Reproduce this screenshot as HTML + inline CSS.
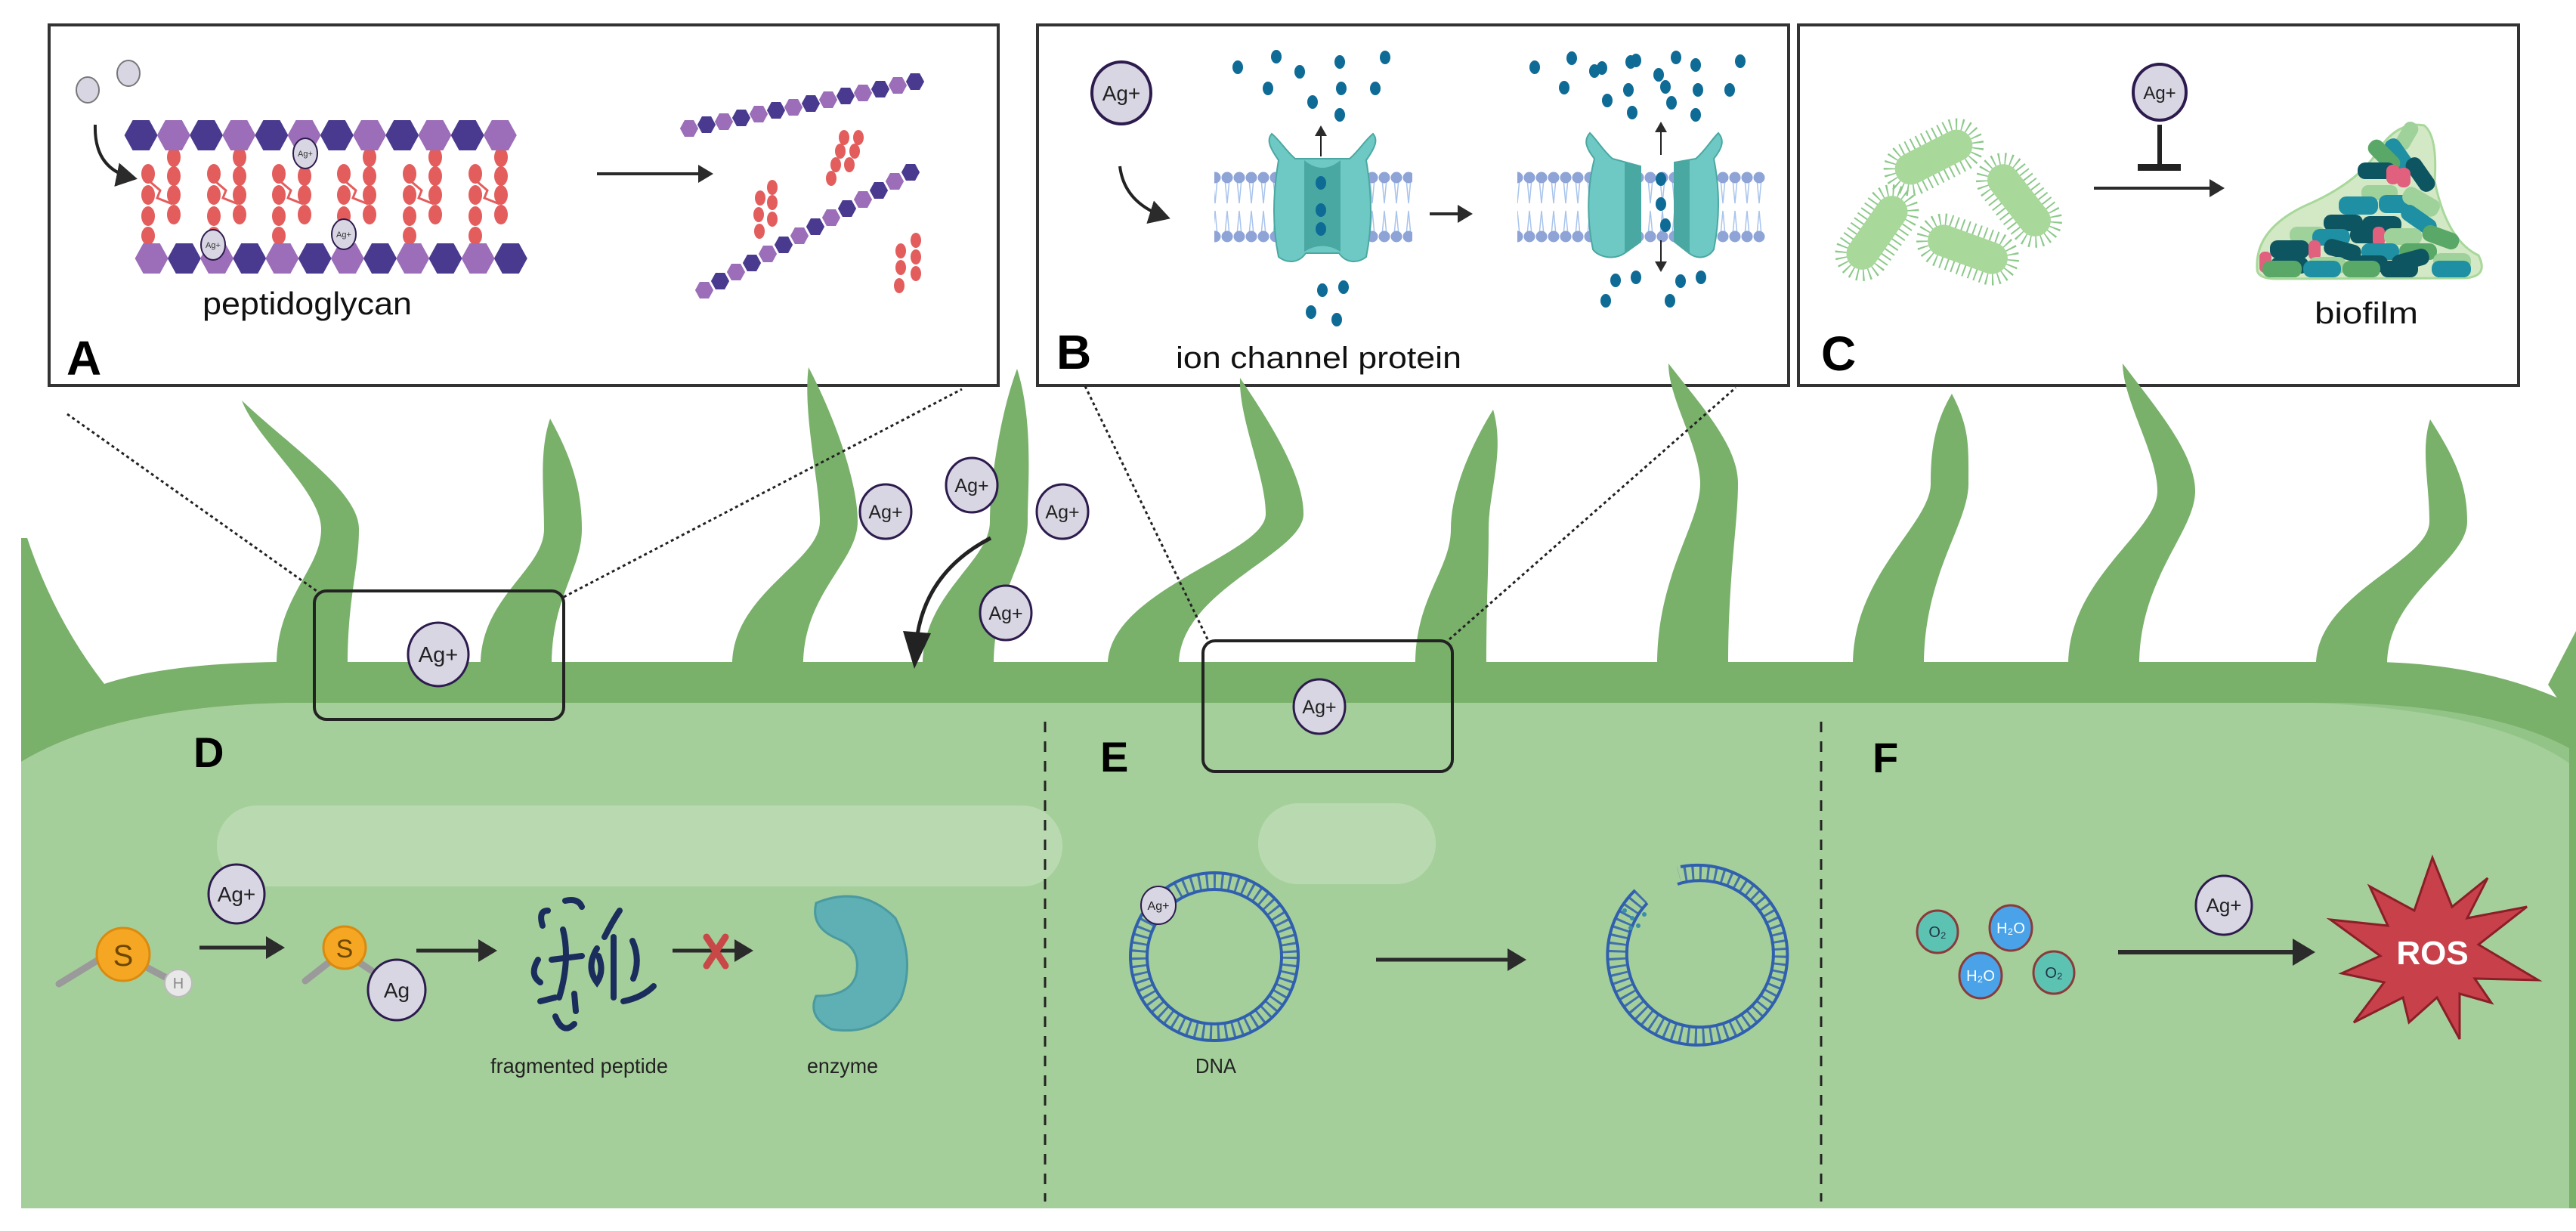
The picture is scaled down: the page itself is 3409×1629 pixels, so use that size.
<!DOCTYPE html>
<html><head><meta charset="utf-8"><style>
html,body{margin:0;padding:0;background:#fff;}
svg{display:block;}
text{font-family:"Liberation Sans",sans-serif;}
</style></head><body>
<svg width="3409" height="1629" viewBox="0 0 3409 1629" xmlns="http://www.w3.org/2000/svg">
<defs>
<marker id="ah" markerWidth="6" markerHeight="6" refX="4" refY="3" orient="auto" markerUnits="strokeWidth"><path d="M0,0 L5,3 L0,6 Z" fill="#2b2b2b"/></marker>
<marker id="ahs" markerWidth="8" markerHeight="8" refX="6" refY="4" orient="auto" markerUnits="strokeWidth"><path d="M0,0 L7,4 L0,8 Z" fill="#2b2b2b"/></marker>
<polygon id="hx" points="-22,0 -11,-20 11,-20 22,0 11,20 -11,20"/>
<pattern id="lip" x="0" y="227" width="16" height="94" patternUnits="userSpaceOnUse">
<path d="M5 10 L8 42 L11 10 M5 84 L8 52 L11 84" stroke="#a9c4ec" stroke-width="1.5" fill="none"/>
<circle cx="8" cy="8" r="7.5" fill="#8ea3d6"/><circle cx="8" cy="86" r="7.5" fill="#8ea3d6"/>
</pattern>
</defs>

<!-- Box A -->
<rect x="65" y="33" width="1256" height="477" fill="#fff" stroke="#333" stroke-width="4"/>
<ellipse cx="116" cy="119" rx="15" ry="17" fill="#d9d6e4" stroke="#777" stroke-width="2"/>
<ellipse cx="170" cy="97" rx="15" ry="17" fill="#d9d6e4" stroke="#777" stroke-width="2"/>
<path d="M126 165 Q124 225 178 236" stroke="#222" stroke-width="4" fill="none" marker-end="url(#ahs)"/>
<g fill="#e35d5d">
<g id="pep">
<ellipse cx="196" cy="230" rx="9" ry="13"/><ellipse cx="196" cy="258" rx="9" ry="13"/><ellipse cx="196" cy="286" rx="9" ry="13"/><ellipse cx="196" cy="312" rx="9" ry="12"/>
<ellipse cx="230" cy="208" rx="9" ry="13"/><ellipse cx="230" cy="233" rx="9" ry="13"/><ellipse cx="230" cy="258" rx="9" ry="13"/><ellipse cx="230" cy="284" rx="9" ry="13"/>
<path d="M198 240 L212 252 L208 262 L228 270" stroke="#e35d5d" stroke-width="3" fill="none"/>
</g>
<use href="#pep" x="87"/><use href="#pep" x="173"/><use href="#pep" x="259"/><use href="#pep" x="346"/><use href="#pep" x="433"/>
</g>
<g fill="#4a3a8f">
<use href="#hx" x="186.6" y="179"/><use href="#hx" x="273" y="179"/><use href="#hx" x="359.4" y="179"/><use href="#hx" x="445.8" y="179"/><use href="#hx" x="532.2" y="179"/><use href="#hx" x="618.6" y="179"/>
<use href="#hx" x="243.8" y="342"/><use href="#hx" x="330.2" y="342"/><use href="#hx" x="416.6" y="342"/><use href="#hx" x="503" y="342"/><use href="#hx" x="589.4" y="342"/><use href="#hx" x="675.8" y="342"/>
</g>
<g fill="#9c6db8">
<use href="#hx" x="229.8" y="179"/><use href="#hx" x="316.2" y="179"/><use href="#hx" x="402.6" y="179"/><use href="#hx" x="489" y="179"/><use href="#hx" x="575.4" y="179"/><use href="#hx" x="661.8" y="179"/>
<use href="#hx" x="200.6" y="342"/><use href="#hx" x="287" y="342"/><use href="#hx" x="373.4" y="342"/><use href="#hx" x="459.8" y="342"/><use href="#hx" x="546.2" y="342"/><use href="#hx" x="632.6" y="342"/>
</g>
<g fill="#d9d6e4" stroke="#2d1b4e" stroke-width="2">
<ellipse cx="404" cy="203" rx="16" ry="20"/><ellipse cx="282" cy="324" rx="16" ry="20"/><ellipse cx="455" cy="310" rx="16" ry="20"/>
</g>
<g font-size="11" fill="#333" text-anchor="middle"><text x="404" y="207">Ag+</text><text x="282" y="328">Ag+</text><text x="455" y="314">Ag+</text></g>
<line x1="790" y1="230" x2="940" y2="230" stroke="#2b2b2b" stroke-width="4" marker-end="url(#ah)"/>
<g>
<g fill="#9c6db8"><use href="#hx" transform="translate(912 170) scale(0.55)"/><use href="#hx" transform="translate(958 161) scale(0.55)"/><use href="#hx" transform="translate(1004 151) scale(0.55)"/><use href="#hx" transform="translate(1050 142) scale(0.55)"/><use href="#hx" transform="translate(1096 132) scale(0.55)"/><use href="#hx" transform="translate(1142 123) scale(0.55)"/><use href="#hx" transform="translate(1188 113) scale(0.55)"/></g>
<g fill="#4a3a8f"><use href="#hx" transform="translate(935 165) scale(0.55)"/><use href="#hx" transform="translate(981 156) scale(0.55)"/><use href="#hx" transform="translate(1027 146) scale(0.55)"/><use href="#hx" transform="translate(1073 137) scale(0.55)"/><use href="#hx" transform="translate(1119 127) scale(0.55)"/><use href="#hx" transform="translate(1165 118) scale(0.55)"/><use href="#hx" transform="translate(1211 108) scale(0.55)"/></g>
<g fill="#9c6db8"><use href="#hx" transform="translate(932 384) scale(0.55)"/><use href="#hx" transform="translate(974 360) scale(0.55)"/><use href="#hx" transform="translate(1016 336) scale(0.55)"/><use href="#hx" transform="translate(1058 312) scale(0.55)"/><use href="#hx" transform="translate(1100 288) scale(0.55)"/><use href="#hx" transform="translate(1142 264) scale(0.55)"/><use href="#hx" transform="translate(1184 240) scale(0.55)"/></g>
<g fill="#4a3a8f"><use href="#hx" transform="translate(953 372) scale(0.55)"/><use href="#hx" transform="translate(995 348) scale(0.55)"/><use href="#hx" transform="translate(1037 324) scale(0.55)"/><use href="#hx" transform="translate(1079 300) scale(0.55)"/><use href="#hx" transform="translate(1121 276) scale(0.55)"/><use href="#hx" transform="translate(1163 252) scale(0.55)"/><use href="#hx" transform="translate(1205 228) scale(0.55)"/></g>
</g>
<g fill="#e35d5d">
<ellipse cx="1117" cy="182" rx="7" ry="10"/><ellipse cx="1112" cy="200" rx="7" ry="10"/><ellipse cx="1106" cy="218" rx="7" ry="10"/><ellipse cx="1136" cy="182" rx="7" ry="10"/><ellipse cx="1131" cy="200" rx="7" ry="10"/><ellipse cx="1124" cy="218" rx="7" ry="10"/><ellipse cx="1100" cy="236" rx="7" ry="10"/>
<ellipse cx="1022" cy="248" rx="7" ry="10"/><ellipse cx="1022" cy="268" rx="7" ry="10"/><ellipse cx="1022" cy="290" rx="7" ry="10"/><ellipse cx="1006" cy="262" rx="7" ry="10"/><ellipse cx="1004" cy="284" rx="7" ry="10"/><ellipse cx="1005" cy="306" rx="7" ry="10"/>
<ellipse cx="1212" cy="318" rx="7" ry="10"/><ellipse cx="1212" cy="340" rx="7" ry="10"/><ellipse cx="1212" cy="362" rx="7" ry="10"/><ellipse cx="1192" cy="332" rx="7" ry="10"/><ellipse cx="1192" cy="354" rx="7" ry="10"/><ellipse cx="1190" cy="378" rx="7" ry="10"/>
</g>
<text x="268" y="416" font-size="42" textLength="277" lengthAdjust="spacingAndGlyphs" fill="#111">peptidoglycan</text>
<text x="88" y="496" font-size="64" font-weight="bold" fill="#000">A</text>

<!-- Box B -->
<rect x="1373" y="33" width="994" height="477" fill="#fff" stroke="#333" stroke-width="4"/>
<ellipse cx="1484" cy="123" rx="39" ry="41" fill="#d9d6e4" stroke="#2d1b4e" stroke-width="4"/>
<text x="1484" y="133" font-size="28" text-anchor="middle" fill="#222">Ag+</text>
<path d="M1482 220 Q1488 270 1545 288" stroke="#222" stroke-width="4" fill="none" marker-end="url(#ahs)"/>
<rect x="1607" y="227" width="262" height="94" fill="url(#lip)"/>
<rect x="2008" y="227" width="328" height="94" fill="url(#lip)"/>
<path d="M1692 212 C1680 195 1676 185 1683 177 C1694 186 1702 200 1714 210 L1786 210 C1798 200 1806 186 1817 177 C1824 185 1820 195 1808 212 C1816 260 1816 300 1808 340 C1795 350 1780 347 1772 335 L1728 335 C1720 347 1705 350 1692 340 C1684 300 1684 260 1692 212Z" fill="#6ec9c4" stroke="#4aa8a2" stroke-width="2"/>
<path d="M1726 212 Q1750 232 1774 212 L1774 333 Q1750 318 1726 333Z" fill="#4aa8a2"/>
<path d="M2110 210 C2098 195 2096 185 2104 176 C2114 186 2122 200 2134 210 L2171 220 L2171 320 L2150 335 C2135 345 2115 340 2108 330 C2100 290 2100 250 2110 210Z" fill="#6ec9c4" stroke="#4aa8a2" stroke-width="2"/>
<path d="M2150 215 L2171 220 L2171 320 L2150 335Z" fill="#4aa8a2"/>
<path d="M2268 210 C2280 195 2282 185 2274 176 C2264 186 2256 200 2244 210 L2216 215 L2216 320 L2235 335 C2248 345 2262 340 2268 330 C2276 290 2276 250 2268 210Z" fill="#6ec9c4" stroke="#4aa8a2" stroke-width="2"/>
<path d="M2236 212 L2216 215 L2216 320 L2236 335Z" fill="#4aa8a2"/>
<g fill="#0e6b96">
<ellipse cx="1638" cy="89" rx="7" ry="9"/><ellipse cx="1689" cy="75" rx="7" ry="9"/><ellipse cx="1720" cy="95" rx="7" ry="9"/><ellipse cx="1773" cy="82" rx="7" ry="9"/><ellipse cx="1833" cy="76" rx="7" ry="9"/><ellipse cx="1678" cy="117" rx="7" ry="9"/><ellipse cx="1775" cy="117" rx="7" ry="9"/><ellipse cx="1820" cy="117" rx="7" ry="9"/><ellipse cx="1737" cy="135" rx="7" ry="9"/><ellipse cx="1773" cy="152" rx="7" ry="9"/>
<ellipse cx="1748" cy="242" rx="7" ry="9"/><ellipse cx="1748" cy="278" rx="7" ry="9"/><ellipse cx="1748" cy="303" rx="7" ry="9"/>
<ellipse cx="1750" cy="384" rx="7" ry="9"/><ellipse cx="1778" cy="380" rx="7" ry="9"/><ellipse cx="1735" cy="413" rx="7" ry="9"/><ellipse cx="1769" cy="423" rx="7" ry="9"/>
<ellipse cx="2031" cy="89" rx="7" ry="9"/><ellipse cx="2080" cy="77" rx="7" ry="9"/><ellipse cx="2110" cy="94" rx="7" ry="9"/><ellipse cx="2120" cy="90" rx="7" ry="9"/><ellipse cx="2158" cy="82" rx="7" ry="9"/><ellipse cx="2165" cy="80" rx="7" ry="9"/><ellipse cx="2218" cy="76" rx="7" ry="9"/><ellipse cx="2244" cy="86" rx="7" ry="9"/><ellipse cx="2303" cy="81" rx="7" ry="9"/><ellipse cx="2195" cy="99" rx="7" ry="9"/><ellipse cx="2070" cy="116" rx="7" ry="9"/><ellipse cx="2155" cy="119" rx="7" ry="9"/><ellipse cx="2204" cy="115" rx="7" ry="9"/><ellipse cx="2247" cy="119" rx="7" ry="9"/><ellipse cx="2289" cy="119" rx="7" ry="9"/><ellipse cx="2127" cy="133" rx="7" ry="9"/><ellipse cx="2212" cy="136" rx="7" ry="9"/><ellipse cx="2160" cy="149" rx="7" ry="9"/><ellipse cx="2244" cy="152" rx="7" ry="9"/>
<ellipse cx="2198" cy="237" rx="7" ry="9"/><ellipse cx="2198" cy="270" rx="7" ry="9"/><ellipse cx="2204" cy="298" rx="7" ry="9"/>
<ellipse cx="2138" cy="371" rx="7" ry="9"/><ellipse cx="2165" cy="367" rx="7" ry="9"/><ellipse cx="2224" cy="372" rx="7" ry="9"/><ellipse cx="2251" cy="367" rx="7" ry="9"/><ellipse cx="2125" cy="398" rx="7" ry="9"/><ellipse cx="2210" cy="398" rx="7" ry="9"/>
</g>
<line x1="1748" y1="207" x2="1748" y2="168" stroke="#222" stroke-width="2" marker-end="url(#ahs)"/>
<line x1="2198" y1="205" x2="2198" y2="163" stroke="#222" stroke-width="2" marker-end="url(#ahs)"/>
<line x1="2198" y1="318" x2="2198" y2="358" stroke="#222" stroke-width="2" marker-end="url(#ahs)"/>
<line x1="1892" y1="283" x2="1945" y2="283" stroke="#2b2b2b" stroke-width="4" marker-end="url(#ah)"/>
<text x="1556" y="487" font-size="40" textLength="378" lengthAdjust="spacingAndGlyphs" fill="#111">ion channel protein</text>
<text x="1398" y="488" font-size="64" font-weight="bold" fill="#000">B</text>

<!-- Box C -->
<rect x="2380" y="33" width="953" height="477" fill="#fff" stroke="#333" stroke-width="4"/>
<g fill="#a8d89a">
<g transform="translate(2559 208) rotate(-27)"><rect x="-62" y="-28" width="124" height="56" rx="28" fill="none" stroke="#8cc98a" stroke-width="16" stroke-dasharray="2 6"/><rect x="-55" y="-21" width="110" height="42" rx="21"/></g>
<g transform="translate(2484 308) rotate(-55)"><rect x="-62" y="-28" width="124" height="56" rx="28" fill="none" stroke="#8cc98a" stroke-width="16" stroke-dasharray="2 6"/><rect x="-55" y="-21" width="110" height="42" rx="21"/></g>
<g transform="translate(2672 265) rotate(52)"><rect x="-62" y="-28" width="124" height="56" rx="28" fill="none" stroke="#8cc98a" stroke-width="16" stroke-dasharray="2 6"/><rect x="-55" y="-21" width="110" height="42" rx="21"/></g>
<g transform="translate(2604 330) rotate(20)"><rect x="-62" y="-28" width="124" height="56" rx="28" fill="none" stroke="#8cc98a" stroke-width="16" stroke-dasharray="2 6"/><rect x="-55" y="-21" width="110" height="42" rx="21"/></g>
</g>
<ellipse cx="2858" cy="122" rx="35" ry="37" fill="#d9d6e4" stroke="#2d1b4e" stroke-width="4"/>
<text x="2858" y="131" font-size="24" text-anchor="middle" fill="#222">Ag+</text>
<line x1="2858" y1="165" x2="2858" y2="220" stroke="#222" stroke-width="6"/>
<rect x="2829" y="217" width="57" height="9" fill="#222"/>
<line x1="2771" y1="249" x2="2940" y2="249" stroke="#2b2b2b" stroke-width="4" marker-end="url(#ah)"/>
<path d="M2987 355 Q2984 300 3060 268 Q3125 238 3150 195 Q3175 160 3208 166 Q3226 180 3222 240 Q3238 318 3280 338 Q3294 366 3262 368 L3010 369 Q2986 368 2987 355Z" fill="#d3e9c6" stroke="#a8d89a" stroke-width="3"/>
<g>
<rect x="3165" y="170" width="40" height="20" rx="9" fill="#9fd19a" transform="rotate(-60 3185 180)"/>
<rect x="3150" y="195" width="50" height="22" rx="10" fill="#1f8fa3" transform="rotate(55 3175 206)"/>
<rect x="3130" y="195" width="50" height="22" rx="10" fill="#5aa867" transform="rotate(45 3155 206)"/>
<rect x="3120" y="215" width="50" height="22" rx="10" fill="#0d5560"/>
<rect x="3178" y="220" width="50" height="22" rx="10" fill="#0d5560" transform="rotate(55 3203 231)"/>
<rect x="3158" y="218" width="18" height="26" rx="8" fill="#e0607e"/><rect x="3172" y="222" width="18" height="26" rx="8" fill="#e0607e"/>
<rect x="3125" y="245" width="48" height="20" rx="9" fill="#9fd19a"/>
<rect x="3095" y="260" width="52" height="24" rx="10" fill="#1f8fa3"/><rect x="3148" y="258" width="52" height="24" rx="10" fill="#1f8fa3"/>
<rect x="3178" y="255" width="52" height="24" rx="10" fill="#9fd19a" transform="rotate(30 3204 267)"/>
<rect x="3075" y="284" width="52" height="22" rx="10" fill="#0d5560"/><rect x="3126" y="286" width="52" height="22" rx="10" fill="#0d5560"/>
<rect x="3175" y="280" width="52" height="22" rx="10" fill="#1f8fa3" transform="rotate(35 3201 291)"/>
<rect x="3030" y="300" width="48" height="22" rx="10" fill="#9fd19a"/><rect x="3060" y="303" width="50" height="22" rx="10" fill="#1f8fa3"/>
<rect x="3110" y="300" width="40" height="22" rx="10" fill="#0d5560"/><rect x="3140" y="300" width="16" height="26" rx="7" fill="#e0607e"/>
<rect x="3155" y="302" width="50" height="22" rx="10" fill="#9fd19a"/><rect x="3205" y="303" width="50" height="22" rx="10" fill="#5aa867" transform="rotate(20 3230 314)"/>
<rect x="3004" y="318" width="52" height="24" rx="10" fill="#0d5560"/><rect x="3055" y="318" width="16" height="26" rx="7" fill="#e0607e"/>
<rect x="3075" y="320" width="50" height="22" rx="10" fill="#0d5560" transform="rotate(15 3100 331)"/>
<rect x="3125" y="322" width="50" height="22" rx="10" fill="#1f8fa3"/><rect x="3175" y="322" width="50" height="22" rx="10" fill="#5aa867"/>
<rect x="2990" y="333" width="16" height="28" rx="7" fill="#e0607e"/>
<rect x="3005" y="340" width="50" height="22" rx="10" fill="#0d5560"/><rect x="3055" y="340" width="50" height="22" rx="10" fill="#9fd19a"/>
<rect x="3110" y="338" width="50" height="22" rx="10" fill="#0d5560"/><rect x="3165" y="333" width="50" height="22" rx="10" fill="#0d5560" transform="rotate(-15 3190 344)"/>
<rect x="3220" y="335" width="50" height="22" rx="10" fill="#9fd19a"/>
<rect x="2994" y="345" width="52" height="22" rx="10" fill="#5aa867"/><rect x="3048" y="345" width="50" height="22" rx="10" fill="#1f8fa3"/>
<rect x="3100" y="345" width="50" height="22" rx="10" fill="#5aa867"/><rect x="3150" y="345" width="50" height="22" rx="10" fill="#0d5560"/>
<rect x="3218" y="345" width="52" height="22" rx="10" fill="#1f8fa3"/>
</g>
<text x="3063" y="428" font-size="40" textLength="137" lengthAdjust="spacingAndGlyphs" fill="#111">biofilm</text>
<text x="2410" y="490" font-size="64" font-weight="bold" fill="#000">C</text>

<!-- Cell body -->
<path d="M28 712 L36 712 Q72 820 138 905 Q220 878 367 876 L3150 876 Q3300 880 3409 935 L3409 1599 L28 1599 Z" fill="#79b06a"/>
<path d="M28 1008 Q150 935 380 930 L3098 930 Q3300 935 3400 990 L3400 1599 L28 1599 Z" fill="#93c487"/>
<path d="M28 1008 Q150 935 380 930 L3060 930 Q3300 940 3400 1010 L3400 1599 L28 1599 Z" fill="#a5cf9a"/>
<path d="M3372 906 L3409 835 L3409 960 Z" fill="#79b06a"/>
<g fill="#79b06a">
<path d="M366 880 C366 790 425 754 425 700 C425 650 339 581 320 530 C384 591 475 650 475 700 C475 754 460 790 460 880Z"/>
<path d="M636 880 C636 790 720 754 720 700 C720 650 713 598 728 554 C758 608 770 650 770 700 C770 754 730 790 730 880Z"/>
<path d="M969 880 C969 785 1085 744 1085 690 C1085 640 1062 547 1070 486 C1107 557 1135 640 1135 690 C1135 744 1063 785 1063 880Z"/>
<path d="M1221 880 C1221 785 1310 744 1310 690 C1310 640 1323 549 1346 488 C1368 559 1360 640 1360 690 C1360 744 1315 785 1315 880Z"/>
<path d="M1466 880 C1466 780 1675 734 1675 680 C1675 630 1639 554 1641 500 C1684 564 1725 630 1725 680 C1725 734 1560 780 1560 880Z"/>
<path d="M1873 880 C1873 790 1920 754 1920 700 C1920 650 1947 589 1976 542 C1992 599 1970 650 1970 700 C1970 754 1967 790 1967 880Z"/>
<path d="M2193 880 C2193 760 2250 694 2250 640 C2250 590 2208 529 2208 481 C2253 539 2300 590 2300 640 C2300 694 2287 760 2287 880Z"/>
<path d="M2452 880 C2452 760 2555 694 2555 640 C2555 590 2562 557 2583 521 C2607 567 2605 590 2605 640 C2605 694 2546 760 2546 880Z"/>
<path d="M2737 880 C2737 765 2855 704 2855 650 C2855 600 2810 532 2809 481 C2855 542 2905 600 2905 650 C2905 704 2831 765 2831 880Z"/>
<path d="M3065 880 C3065 785 3215 744 3215 690 C3215 640 3203 595 3216 555 C3248 605 3265 640 3265 690 C3265 744 3159 785 3159 880Z"/>
</g>
<rect x="287" y="1066" width="1119" height="107" rx="53" fill="#b9dab0"/>
<rect x="1665" y="1063" width="235" height="107" rx="53" fill="#b9dab0"/>

<g stroke="#222" stroke-width="3" stroke-dasharray="4 4" fill="none">
<line x1="89" y1="548" x2="419" y2="782"/><line x1="746" y1="790" x2="1273" y2="515"/>
<line x1="1436" y1="511" x2="1600" y2="850"/><line x1="1918" y1="846" x2="2297" y2="513"/>
</g>
<rect x="416" y="782" width="330" height="170" rx="16" fill="none" stroke="#222" stroke-width="4"/>
<rect x="1592" y="848" width="330" height="173" rx="16" fill="none" stroke="#222" stroke-width="4"/>

<g fill="#d9d6e4" stroke="#2d1b4e" stroke-width="3">
<ellipse cx="1172" cy="677" rx="34" ry="36"/><ellipse cx="1286" cy="642" rx="34" ry="36"/><ellipse cx="1406" cy="677" rx="34" ry="36"/><ellipse cx="1331" cy="811" rx="34" ry="36"/>
<ellipse cx="1746" cy="935" rx="34" ry="36"/><ellipse cx="580" cy="866" rx="40" ry="42"/>
</g>
<g font-size="25" text-anchor="middle" fill="#222">
<text x="1172" y="686">Ag+</text><text x="1286" y="651">Ag+</text><text x="1406" y="686">Ag+</text><text x="1331" y="820">Ag+</text><text x="1746" y="944">Ag+</text><text x="580" y="876" font-size="29">Ag+</text>
</g>
<path d="M1311 712 Q1228 755 1214 840" stroke="#222" stroke-width="5" fill="none"/>
<polygon points="1195,835 1232,838 1210,885" fill="#222"/>

<line x1="1383" y1="955" x2="1383" y2="1590" stroke="#222" stroke-width="3" stroke-dasharray="14 12"/>
<line x1="2410" y1="955" x2="2410" y2="1590" stroke="#222" stroke-width="3" stroke-dasharray="14 12"/>
<g font-size="56" font-weight="bold" fill="#000"><text x="256" y="1015">D</text><text x="1456" y="1021">E</text><text x="2478" y="1022">F</text></g>

<!-- Panel D -->
<line x1="78" y1="1302" x2="150" y2="1258" stroke="#9a9a9a" stroke-width="9" stroke-linecap="round"/>
<line x1="175" y1="1270" x2="228" y2="1298" stroke="#9a9a9a" stroke-width="9" stroke-linecap="round"/>
<circle cx="163" cy="1263" r="35" fill="#f5a623" stroke="#d98a10" stroke-width="3"/>
<text x="163" y="1278" font-size="40" text-anchor="middle" fill="#6b4700">S</text>
<circle cx="236" cy="1301" r="18" fill="#e8e8e8" stroke="#bbb" stroke-width="2"/>
<text x="236" y="1308" font-size="20" text-anchor="middle" fill="#888">H</text>
<ellipse cx="313" cy="1183" rx="37" ry="39" fill="#d9d6e4" stroke="#2d1b4e" stroke-width="3"/>
<text x="313" y="1193" font-size="28" text-anchor="middle" fill="#222">Ag+</text>
<line x1="264" y1="1254" x2="372" y2="1254" stroke="#2b2b2b" stroke-width="5" marker-end="url(#ah)"/>
<line x1="404" y1="1298" x2="450" y2="1262" stroke="#9a9a9a" stroke-width="9" stroke-linecap="round"/>
<line x1="470" y1="1270" x2="500" y2="1290" stroke="#9a9a9a" stroke-width="9" stroke-linecap="round"/>
<circle cx="456" cy="1254" r="28" fill="#f5a623" stroke="#d98a10" stroke-width="3"/>
<text x="456" y="1267" font-size="34" text-anchor="middle" fill="#6b4700">S</text>
<ellipse cx="525" cy="1310" rx="38" ry="40" fill="#d9d6e4" stroke="#2d1b4e" stroke-width="3"/>
<text x="525" y="1320" font-size="28" text-anchor="middle" fill="#222">Ag</text>
<line x1="551" y1="1258" x2="653" y2="1258" stroke="#2b2b2b" stroke-width="5" marker-end="url(#ah)"/>
<g stroke="#1b2d5c" stroke-width="8" fill="none" stroke-linecap="round">
<path d="M748 1192 Q765 1188 770 1200"/><path d="M718 1225 Q712 1205 725 1205"/><path d="M800 1240 Q810 1220 820 1205"/>
<path d="M790 1255 Q775 1280 790 1300 Q800 1285 792 1265"/><path d="M745 1230 Q755 1270 740 1320"/><path d="M730 1270 L770 1265"/>
<path d="M712 1270 Q700 1290 715 1300"/><path d="M837 1245 Q848 1270 838 1295"/><path d="M812 1240 L812 1320"/>
<path d="M715 1325 L735 1320"/><path d="M825 1325 Q850 1320 865 1305"/><path d="M735 1345 Q745 1370 760 1355"/><path d="M760 1315 L762 1338"/>
</g>
<text x="649" y="1420" font-size="28" textLength="235" lengthAdjust="spacingAndGlyphs" fill="#222">fragmented peptide</text>
<line x1="890" y1="1258" x2="992" y2="1258" stroke="#2b2b2b" stroke-width="5" marker-end="url(#ah)"/>
<g stroke="#c84848" stroke-width="9" stroke-linecap="round"><line x1="935" y1="1240" x2="960" y2="1278"/><line x1="960" y1="1240" x2="935" y2="1278"/></g>
<path d="M1080 1195 Q1140 1170 1185 1215 Q1212 1270 1192 1322 Q1162 1372 1100 1362 Q1068 1345 1080 1318 Q1125 1318 1133 1290 Q1140 1255 1110 1243 Q1072 1228 1080 1195Z" fill="#5fb0b5" stroke="#4a9aa0" stroke-width="3"/>
<text x="1068" y="1420" font-size="28" textLength="94" lengthAdjust="spacingAndGlyphs" fill="#222">enzyme</text>

<!-- Panel E -->
<g fill="none" stroke="#2f5fae">
<circle cx="1607" cy="1266" r="100" stroke-width="22" stroke-dasharray="3 7" stroke-opacity="0.85"/>
<circle cx="1607" cy="1266" r="111" stroke-width="4"/>
<circle cx="1607" cy="1266" r="89" stroke-width="4"/>
</g>
<ellipse cx="1533" cy="1198" rx="23" ry="25" fill="#d9d6e4" stroke="#2d1b4e" stroke-width="2"/>
<text x="1533" y="1204" font-size="16" text-anchor="middle" fill="#222">Ag+</text>
<text x="1582" y="1420" font-size="28" textLength="54" lengthAdjust="spacingAndGlyphs" fill="#222">DNA</text>
<line x1="1821" y1="1270" x2="2015" y2="1270" stroke="#2b2b2b" stroke-width="5" marker-end="url(#ah)"/>
<g fill="none" stroke="#2f5fae">
<path d="M2172 1186 A108 108 0 1 0 2222 1158" stroke-width="22" stroke-dasharray="3 7" stroke-opacity="0.85"/>
<path d="M2164 1178 A119 119 0 1 0 2224 1147" stroke-width="4"/>
<path d="M2180 1195 A97 97 0 1 0 2220 1170" stroke-width="4"/>
</g>
<g fill="#3a8ea8"><circle cx="2150" cy="1205" r="3"/><circle cx="2160" cy="1215" r="3"/><circle cx="2168" cy="1225" r="3"/><circle cx="2176" cy="1210" r="3"/><circle cx="2158" cy="1228" r="3"/></g>

<!-- Panel F -->
<g stroke="#8b3a3a" stroke-width="3">
<ellipse cx="2564" cy="1233" rx="27" ry="28" fill="#5cc3b3"/><ellipse cx="2718" cy="1287" rx="27" ry="28" fill="#5cc3b3"/>
<ellipse cx="2661" cy="1228" rx="28" ry="30" fill="#4aa3e8"/><ellipse cx="2621" cy="1291" rx="28" ry="30" fill="#4aa3e8"/>
</g>
<g font-size="20" text-anchor="middle">
<text x="2564" y="1240" fill="#234">O₂</text><text x="2718" y="1294" fill="#234">O₂</text>
<text x="2661" y="1235" fill="#fff">H₂O</text><text x="2621" y="1298" fill="#fff">H₂O</text>
</g>
<ellipse cx="2943" cy="1198" rx="37" ry="39" fill="#d9d6e4" stroke="#2d1b4e" stroke-width="3"/>
<text x="2943" y="1207" font-size="26" text-anchor="middle" fill="#222">Ag+</text>
<line x1="2803" y1="1260" x2="3058" y2="1260" stroke="#2b2b2b" stroke-width="6" marker-end="url(#ah)"/>
<polygon points="3219,1135 3245,1200 3292,1162 3265,1215 3344,1200 3280,1250 3359,1297 3275,1295 3297,1327 3255,1315 3255,1375 3225,1320 3188,1353 3180,1320 3115,1353 3155,1300 3099,1288 3150,1265 3084,1217 3160,1225 3136,1173 3195,1205" fill="#c8404a" stroke="#8a1f28" stroke-width="3"/>
<text x="3219" y="1276" font-size="44" font-weight="bold" text-anchor="middle" fill="#fff">ROS</text>
</svg>
</body></html>
